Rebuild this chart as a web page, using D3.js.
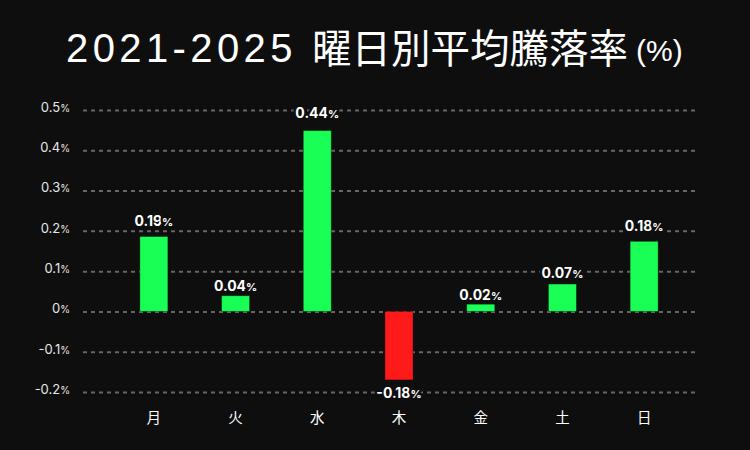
<!DOCTYPE html>
<html>
<head>
<meta charset="utf-8">
<script src="https://cdn.jsdelivr.net/npm/d3@7"></script>
<style>
  html, body { margin: 0; padding: 0; background: #0e0e0e; }
  svg { display: block; }
</style>
</head>
<body>
<div id="chart"></div>
<script>
// weekday categories and average change (%)
var days = ["月", "火", "水", "木", "金", "土", "日"];
var values = [0.186, 0.039, 0.449, -0.170, 0.018, 0.068, 0.174];
var valueLabels = ["0.19", "0.04", "0.44", "-0.18", "0.02", "0.07", "0.18"];
var yTicks = [-0.2, -0.1, 0, 0.1, 0.2, 0.3, 0.4, 0.5];
var yTickLabels = ["-0.2", "-0.1", "0", "0.1", "0.2", "0.3", "0.4", "0.5"];

var width = 750, height = 450;
var bg = "#0e0e0e";
var numFont = "Inter, 'Noto Sans', 'DejaVu Sans', sans-serif";
var cjkFont = "'Noto Sans CJK JP', 'Noto Sans', sans-serif";
var latinFont = "'Liberation Sans', Arial, sans-serif";

var svg = d3.select("#chart").append("svg")
    .attr("width", width)
    .attr("height", height);

svg.append("rect")
    .attr("width", width)
    .attr("height", height)
    .attr("fill", bg);

//Title (three pieces, each placed where it sits in the original)
var titleY = 62;
svg.append("text")
    .attr("x", 66).attr("y", titleY)
    .attr("fill", "#ffffff")
    .style("font-family", latinFont)
    .style("font-size", "40px")
    .style("letter-spacing", "4.4px")
    .text("2021-2025");
svg.append("text")
    .attr("x", 312).attr("y", titleY + 1)
    .attr("fill", "#ffffff")
    .style("font-family", cjkFont)
    .style("font-size", "39.5px")
    .text("曜日別平均騰落率");
svg.append("text")
    .attr("x", 636).attr("y", titleY - 1)
    .attr("fill", "#ffffff")
    .style("font-family", latinFont)
    .style("font-size", "30px")
    .text("(%)");

//Scales
var plot = {left: 83, right: 697, top: 110, bottom: 392};

var x_scale = d3.scaleBand()
    .domain(days)
    .range([113, 685])
    .paddingInner(0.657)
    .paddingOuter(0.3285);

var y_scale = d3.scaleLinear()
    .domain([-0.2, 0.5])
    .range([plot.bottom, plot.top]);

//Y axis with dashed grid
var y_axis = d3.axisLeft(y_scale)
    .tickValues(yTicks)
    .tickSize(-(plot.right - plot.left))
    .tickPadding(13)
    .tickFormat(function(d, i) { return yTickLabels[i]; });

var yg = svg.append("g")
    .attr("transform", "translate(" + plot.left + ",0)")
    .call(y_axis);

yg.select(".domain").remove();
yg.selectAll(".tick line")
    .attr("stroke", "#666666")
    .attr("stroke-width", 2)
    .attr("stroke-dasharray", "4,4");
yg.selectAll(".tick text")
    .attr("fill", "#e6e6e6")
    .attr("dy", "0.1em")
    .style("font-family", numFont)
    .style("font-size", "13px")
    .append("tspan")
    .style("font-size", "10px")
    .text("%");

//Bars
var g = svg.append("g");

g.selectAll("rect.bar")
    .data(values)
    .enter().append("rect")
    .attr("class", "bar")
    .attr("x", function(d, i) { return x_scale(days[i]); })
    .attr("width", x_scale.bandwidth())
    .attr("y", function(d) { return y_scale(Math.max(0, d)); })
    .attr("height", function(d) { return Math.abs(y_scale(d) - y_scale(0)); })
    .attr("fill", function(d) { return d >= 0 ? "#19ff55" : "#ff1a1a"; })
    .attr("stroke", "rgba(0,0,0,0.35)")
    .attr("stroke-width", 1);

//Value labels - positive ones sit a little above their rounded value,
//negative ones hang under the bar. Dark halo cuts the grid behind them.
var labels = g.selectAll("text.val")
    .data(values)
    .enter().append("text")
    .attr("class", "val")
    .attr("x", function(d, i) { return x_scale(days[i]) + x_scale.bandwidth() / 2; })
    .attr("y", function(d, i) {
        var v = +valueLabels[i];
        return d >= 0 ? y_scale(v * 1.076 + 0.0066) : y_scale(d) + 18;
    })
    .attr("text-anchor", "middle")
    .attr("fill", "#ffffff")
    .attr("stroke", bg)
    .attr("stroke-width", 5)
    .attr("stroke-linejoin", "round")
    .style("paint-order", "stroke")
    .style("font-family", numFont)
    .style("font-weight", "bold")
    .style("font-size", "14px");
labels.append("tspan").text(function(d, i) { return valueLabels[i]; });
labels.append("tspan").style("font-size", "11px").text("%");

//X labels
var x_axis = d3.axisBottom(x_scale).tickSize(0).tickPadding(21);
var xg = svg.append("g")
    .attr("transform", "translate(0," + plot.bottom + ")")
    .call(x_axis);
xg.select(".domain").remove();
xg.selectAll(".tick text")
    .attr("fill", "#ffffff")
    .style("font-family", cjkFont)
    .style("font-size", "14.5px");
</script>
</body>
</html>
